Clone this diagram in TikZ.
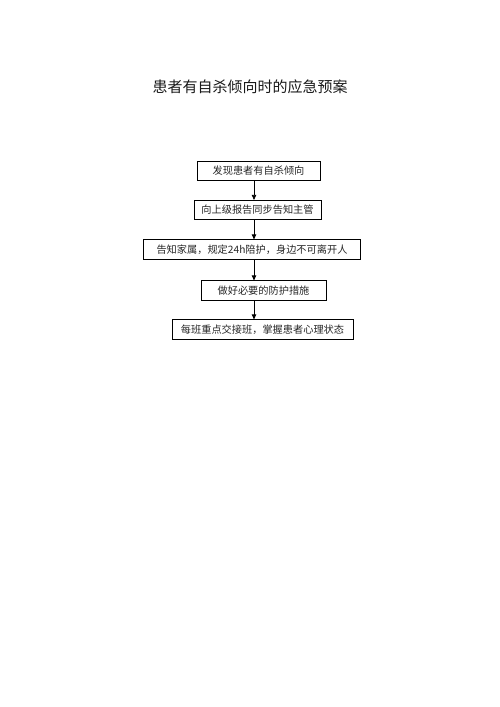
\documentclass[tikz,border=0pt]{standalone}
\usepackage{fontspec}
\newfontfamily\cjk{Noto Sans CJK SC}
\usetikzlibrary{arrows.meta}
\begin{document}
\begin{tikzpicture}[x=1pt,y=-1pt,
  stepbox/.style={draw=black,line width=0.7pt,inner sep=0pt,minimum height=19.5pt,font=\cjk\fontsize{10.2}{11}\selectfont,text=black!85},
  conn/.style={line width=0.7pt,-{Triangle[length=5pt,width=4.5pt]}}]
\useasboundingbox (0,0) rectangle (500,707);
\node[font=\cjk\fontsize{15}{16}\selectfont,text=black!90] (title) at (250,87) {患者有自杀倾向时的应急预案};
\node[stepbox,minimum width=123pt] (b1) at (258.5,171) {发现患者有自杀倾向};
\node[stepbox,minimum width=127pt] (b2) at (257.5,210) {向上级报告同步告知主管};
\node[stepbox,minimum width=217pt] (b3) at (252,249.5) {告知家属，规定24h陪护，身边不可离开人};
\node[stepbox,minimum width=125pt] (b4) at (263.5,290.5) {做好必要的防护措施};
\node[stepbox,minimum width=181pt] (b5) at (262.5,329.5) {每班重点交接班，掌握患者心理状态};
\coordinate (ax) at (254,0);
\draw[conn] (b1.south -| ax) -- (b2.north -| ax);
\draw[conn] (b2.south -| ax) -- (b3.north -| ax);
\draw[conn] (b3.south -| ax) -- (b4.north -| ax);
\draw[conn] (b4.south -| ax) -- (b5.north -| ax);
\end{tikzpicture}
\end{document}
